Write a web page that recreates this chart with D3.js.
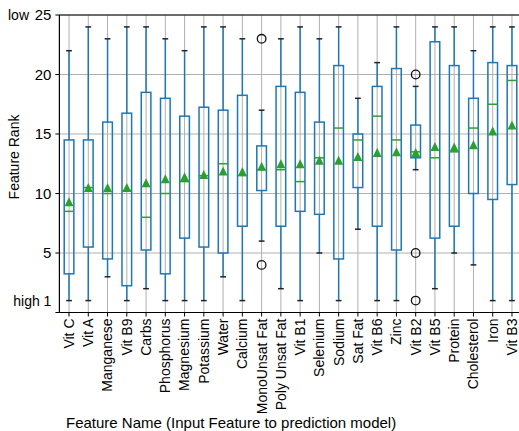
<!DOCTYPE html>
<html>
<head>
<meta charset="utf-8">
<script src="https://cdn.jsdelivr.net/npm/d3@7"></script>
<style>
  body { margin: 0; background: #fff; }
  svg { display: block; font-family: "Liberation Sans", Arial, Helvetica, sans-serif; }
</style>
</head>
<body>
<svg id="chart"></svg>
<script>
// feature names, in plotted order
const features = ["Vit C", "Vit A", "Manganese", "Vit B9", "Carbs", "Phosphorus", "Magnesium",
  "Potassium", "Water", "Calcium", "MonoUnsat Fat", "Poly Unsat Fat", "Vit B1", "Selenium",
  "Sodium", "Sat Fat", "Vit B6", "Zinc", "Vit B2", "Vit B5", "Protein", "Cholesterol", "Iron", "Vit B3"];

// box stats
const whiskLow = [1, 1, 3, 1, 2, 1, 1, 1, 3, 1, 6, 2, 1, 5, 1, 7, 1, 1, 12, 2, 5, 4, 1, 1];
const q1 =       [3.25, 5.5, 4.5, 2.25, 5.25, 3.25, 6.25, 5.5, 5, 7.25, 10.25, 7.25, 8.5, 8.25, 4.5, 10.5, 7.25, 5.25, 13, 6.25, 7.25, 10, 9.5, 10.75];
const medians =  [8.5, 10.5, 10, 10.25, 8, 10, 11, 11.5, 12.5, 11.5, 12, 12, 11, 13, 15.5, 14.5, 16.5, 14.5, 13.5, 13, 13.5, 15.5, 17.5, 19.5];
const q3 =       [14.5, 14.5, 16, 16.75, 18.5, 18, 16.5, 17.25, 17, 18.25, 14, 19, 18.5, 16, 20.75, 15, 19, 20.5, 15.75, 22.75, 20.75, 18, 21, 20.75];
const whiskHigh =[22, 24, 23, 24, 24, 23, 22, 24, 24, 23, 17, 23, 24, 23, 24, 18, 21, 24, 19, 24, 24, 22, 24, 24];
const means =    [9.3, 10.5, 10.5, 10.5, 10.9, 11.25, 11.4, 11.6, 11.9, 11.85, 12.3, 12.5, 12.5, 12.8, 12.8, 13.1, 13.45, 13.5, 13.45, 13.95, 13.9, 14.1, 15.25, 15.75];
const fliers = { "MonoUnsat Fat": [23, 4], "Vit B2": [20, 5, 1] };

const yTicks = [0, 5, 10, 15, 20, 25];
const yTickLabels = ["", "5", "10", "15", "20", "25"];

const W = 519, H = 431;
const svg = d3.select("#chart").attr("width", W).attr("height", H);

const pLeft = 59.4, pRight = 521.6, pTop = 15, pBottom = 312.5;

const x = d3.scaleBand().domain(features).range([pLeft, pRight]);
const bw = x.bandwidth();
const cx = d => x(d) + bw / 2;
const y = d3.scaleLinear().domain([0, 25]).range([pBottom, pTop]);

const blue = "#1f77b4", green = "#2ca02c", grid = "#b0b0b0";

// grid
svg.append("g").selectAll("line").data(features).enter().append("line")
  .attr("x1", cx).attr("x2", cx).attr("y1", pTop).attr("y2", pBottom)
  .attr("stroke", grid).attr("stroke-width", 1);
svg.append("g").selectAll("line").data(yTicks.filter(t => t > 0)).enter().append("line")
  .attr("x1", pLeft).attr("x2", W).attr("y1", d => y(d)).attr("y2", d => y(d))
  .attr("stroke", grid).attr("stroke-width", 1);

// boxes
const data = features.map((f, i) => ({
  name: f, lo: whiskLow[i], q1: q1[i], med: medians[i], q3: q3[i], hi: whiskHigh[i],
  mean: means[i], out: fliers[f] || []
}));

const boxW = bw * 0.5, capW = bw * 0.3;
const g = svg.append("g").selectAll("g").data(data).enter().append("g");

g.append("line").attr("x1", d => cx(d.name)).attr("x2", d => cx(d.name))
  .attr("y1", d => y(d.lo)).attr("y2", d => y(d.q1))
  .attr("stroke", blue).attr("stroke-width", 1.5);
g.append("line").attr("x1", d => cx(d.name)).attr("x2", d => cx(d.name))
  .attr("y1", d => y(d.q3)).attr("y2", d => y(d.hi))
  .attr("stroke", blue).attr("stroke-width", 1.5);
g.append("rect")
  .attr("x", d => cx(d.name) - boxW / 2).attr("width", boxW)
  .attr("y", d => y(d.q3)).attr("height", d => y(d.q1) - y(d.q3))
  .attr("fill", "none").attr("stroke", blue).attr("stroke-width", 1.5);
g.selectAll("line.cap").data(d => [[d.name, d.lo], [d.name, d.hi]]).enter().append("line")
  .attr("class", "cap")
  .attr("x1", d => cx(d[0]) - capW / 2).attr("x2", d => cx(d[0]) + capW / 2)
  .attr("y1", d => y(d[1])).attr("y2", d => y(d[1]))
  .attr("stroke", "#222").attr("stroke-width", 1.5);
g.append("line")
  .attr("x1", d => cx(d.name) - boxW / 2).attr("x2", d => cx(d.name) + boxW / 2)
  .attr("y1", d => y(d.med)).attr("y2", d => y(d.med))
  .attr("stroke", green).attr("stroke-width", 1.5);
const tri = 4.5;
g.append("path")
  .attr("d", d => {
    const px = cx(d.name), py = y(d.mean);
    return `M${px},${py - tri}L${px + tri},${py + tri}L${px - tri},${py + tri}Z`;
  })
  .attr("fill", green);
g.selectAll("circle").data(d => d.out.map(v => [d.name, v])).enter().append("circle")
  .attr("cx", d => cx(d[0])).attr("cy", d => y(d[1])).attr("r", 4.3)
  .attr("fill", "none").attr("stroke", "#111").attr("stroke-width", 1.3);

// spines
svg.append("line").attr("x1", pLeft).attr("x2", pLeft).attr("y1", pTop).attr("y2", pBottom)
  .attr("stroke", "#000").attr("stroke-width", 1.2);
svg.append("line").attr("x1", pLeft).attr("x2", W).attr("y1", pTop).attr("y2", pTop)
  .attr("stroke", "#000").attr("stroke-width", 1.2);
svg.append("line").attr("x1", pLeft).attr("x2", W).attr("y1", pBottom).attr("y2", pBottom)
  .attr("stroke", "#000").attr("stroke-width", 1.2);

// y ticks
const yt = svg.append("g").selectAll("g").data(yTicks).enter().append("g");
yt.append("line").attr("x1", pLeft - 4).attr("x2", pLeft).attr("y1", d => y(d)).attr("y2", d => y(d))
  .attr("stroke", "#000");
yt.append("text").attr("x", pLeft - 8).attr("y", d => y(d)).attr("dy", "0.35em")
  .attr("text-anchor", "end").style("font-size", "15px")
  .text((d, i) => yTickLabels[i]);
svg.append("text").attr("x", pLeft - 8).attr("y", y(1)).attr("dy", "0.35em")
  .attr("text-anchor", "end").style("font-size", "14px").text("high 1");
svg.append("text").attr("x", 8).attr("y", y(25)).attr("dy", "0.35em")
  .style("font-size", "14px").text("low");

// x ticks
const xt = svg.append("g").selectAll("g").data(features).enter().append("g");
xt.append("line").attr("x1", cx).attr("x2", cx).attr("y1", pBottom).attr("y2", pBottom + 4)
  .attr("stroke", "#000");
xt.append("text")
  .attr("transform", d => `translate(${cx(d)},${pBottom + 6}) rotate(-90)`)
  .attr("dy", "0.35em").attr("text-anchor", "end").style("font-size", "14px")
  .text(d => d);

// axis labels
svg.append("text").attr("transform", `translate(19,157) rotate(-90)`)
  .attr("text-anchor", "middle").style("font-size", "14px").text("Feature Rank");
svg.append("text").attr("x", 66).attr("y", 428)
  .style("font-size", "15px").text("Feature Name (Input Feature to prediction model)");
</script>
</body>
</html>
